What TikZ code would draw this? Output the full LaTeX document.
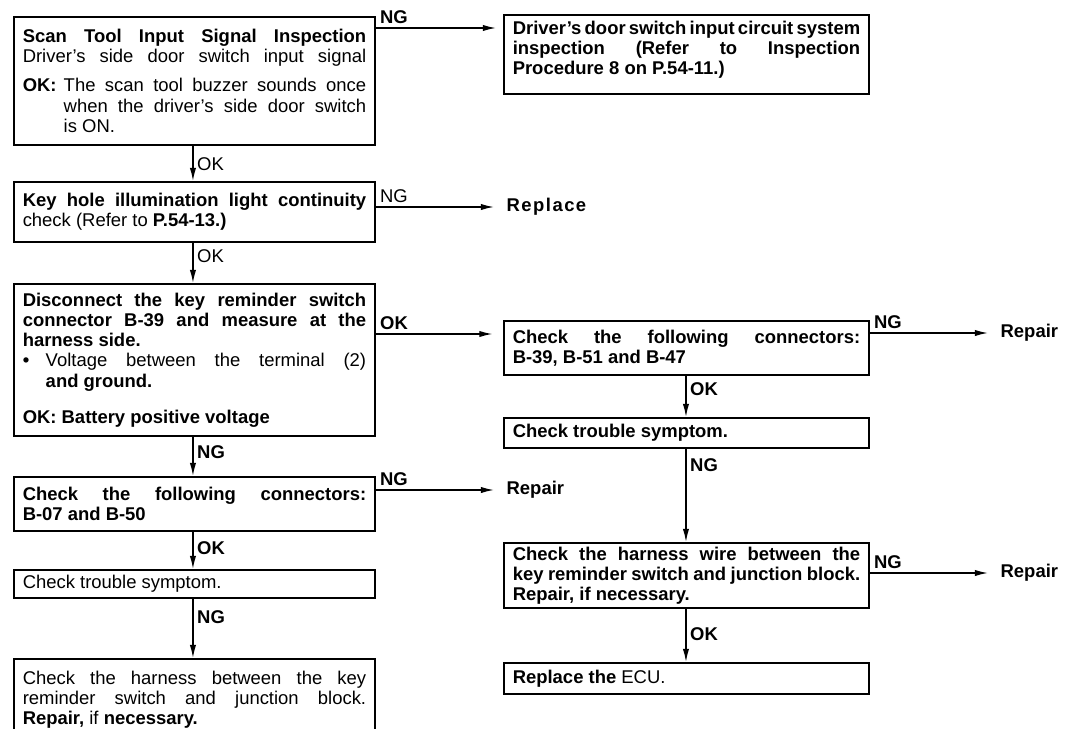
\documentclass[tikz,border=0pt]{standalone}
\usepackage{fontspec}
\setmainfont{Liberation Sans}
\newfontfamily\trackedfont[LetterSpace=8]{Liberation Sans}
\usetikzlibrary{arrows.meta,positioning}

\newcommand{\boxfont}{\fontsize{10.5}{11.5}\selectfont}
\newlength{\okind}
\setlength{\okind}{0.82cm}
\newlength{\bulind}
\setlength{\bulind}{0.46cm}
\newcommand{\jline}[1]{\noindent\makebox[\hsize][s]{#1}\par}
\newcommand{\pline}[1]{\noindent #1\par}
\newcommand{\okfirst}[2]{\noindent\makebox[\okind][l]{#1}\makebox[\dimexpr\hsize-\okind\relax][s]{#2}\par}
\newcommand{\okjline}[1]{\noindent\hspace*{\okind}\makebox[\dimexpr\hsize-\okind\relax][s]{#1}\par}
\newcommand{\okline}[1]{\noindent\hspace*{\okind}#1\par}
\newcommand{\tightsp}{\spaceskip=0.12em plus 1em minus 0.05em\relax}

\begin{document}
\begin{tikzpicture}[x=0.02cm,y=-0.02cm,
    stepbox/.style={draw,line width=1.1pt,anchor=north west,align=justify,
      inner xsep=5pt,inner ysep=2pt,font=\boxfont},
    leftbox/.style={stepbox,text width=6.87cm},
    rightbox/.style={stepbox,text width=6.95cm},
    flow/.style={line width=0.8pt,-{Latex[length=7.5pt,width=3.6pt]}},
    tag/.style={font=\boxfont\bfseries,inner sep=2pt},
    tagthin/.style={font=\boxfont,inner sep=2pt},
    result/.style={anchor=west,inner xsep=7pt,font=\boxfont\bfseries}]

  \useasboundingbox (0,0) rectangle (1067,728);

  % left column
  \node[leftbox,minimum height=2.56cm] (scan) at (13,16) {%
    \jline{\textbf{Scan Tool Input Signal Inspection}}%
    \jline{Driver's side door switch input signal}%
    \vspace{5pt}%
    \okfirst{\textbf{OK:}}{The scan tool buzzer sounds once}%
    \okjline{when the driver's side door switch}%
    \okline{is ON.}};
  \node[leftbox,minimum height=1.20cm] (keyhole) at (13,181) {%
    \jline{\textbf{Key hole illumination light continuity}}%
    \pline{check (Refer to \textbf{P.54-13.)}}};
  \node[leftbox,minimum height=3.04cm] (discon) at (13,283) {%
    \bfseries
    \jline{Disconnect the key reminder switch}%
    \jline{connector B-39 and measure at the}%
    \pline{harness side.}%
    \noindent\makebox[\bulind][l]{\textbullet}\makebox[\dimexpr\hsize-\bulind\relax][s]{\mdseries Voltage between the terminal (2)}\par
    \noindent\hspace*{\bulind}and ground.\par
    \vspace{9pt}%
    \pline{OK: Battery positive voltage}};
  \node[leftbox,minimum height=1.08cm] (connL) at (13,476) {%
    \bfseries
    \jline{Check the following connectors:}%
    \pline{B-07 and B-50}};
  \node[leftbox,minimum height=0.56cm] (symL) at (13,569) {%
    \pline{Check trouble symptom.}};
  \node[leftbox,minimum height=1.64cm] (wireL) at (13,658) {%
    \jline{Check the harness between the key}%
    \jline{reminder switch and junction block.}%
    \pline{\textbf{Repair,} if \textbf{necessary.}}};

  % right column
  \node[rightbox,inner ysep=3.5pt] (door) at (503,14) {%
    \bfseries
    \jline{\tightsp Driver's door switch input circuit system}%
    \jline{inspection (Refer to Inspection}%
    \pline{Procedure 8 on P.54-11.)\rule[-7.5pt]{0pt}{7.5pt}}};
  \node[rightbox,minimum height=1.08cm] (connR) at (503,320) {%
    \bfseries
    \jline{Check the following connectors:}%
    \pline{B-39, B-51 and B-47}};
  \node[rightbox,minimum height=0.60cm] (symR) at (503,417) {%
    \pline{\textbf{Check trouble symptom.}}};
  \node[rightbox,minimum height=1.30cm] (wireR) at (503,542) {%
    \bfseries
    \jline{Check the harness wire between the}%
    \jline{\tightsp key reminder switch and junction block.}%
    \pline{Repair, if necessary.}};
  \node[rightbox,minimum height=0.62cm] (ecu) at (503,662) {%
    \pline{\textbf{Replace the} ECU.}};

  % end results
  \node[result,font=\boxfont\trackedfont\bfseries] (replace) at (494,207) {Replace};
  \node[result] (repairA) at (988,333) {Repair};
  \node[result] (repairB) at (494,490) {Repair};
  \node[result] (repairC) at (988,573) {Repair};

  % horizontal connectors
  \coordinate (ngDoor) at ([yshift=-0.24cm]scan.north east);
  \draw[flow,shorten >=4pt] (ngDoor) -- (ngDoor -| door.west) node[tag,above right,pos=0]{NG};
  \draw[flow] (replace.west -| keyhole.east) -- (replace.west) node[tagthin,above right,pos=0]{NG};
  \coordinate (okConn) at ([yshift=-0.28cm]connR.north west);
  \draw[flow,shorten >=6pt] (okConn -| discon.east) -- (okConn) node[tag,above right,pos=0]{OK};
  \draw[flow] (repairA.west -| connR.east) -- (repairA.west) node[tag,above right,pos=0]{NG};
  \draw[flow] (repairB.west -| connL.east) -- (repairB.west) node[tag,above right,pos=0]{NG};
  \draw[flow] (repairC.west -| wireR.east) -- (repairC.west) node[tag,above right,pos=0]{NG};

  % vertical connectors
  \draw[flow] ([xshift=3.6cm]scan.south west) -- ([xshift=3.6cm]keyhole.north west) node[tagthin,right,pos=0.53]{OK};
  \draw[flow] ([xshift=3.6cm]keyhole.south west) -- ([xshift=3.6cm]discon.north west) node[tagthin,right,pos=0.33]{OK};
  \draw[flow] ([xshift=3.6cm]discon.south west) -- ([xshift=3.6cm]connL.north west) node[tag,right,pos=0.38]{NG};
  \draw[flow] ([xshift=3.6cm]connL.south west) -- ([xshift=3.6cm]symL.north west) node[tag,right,pos=0.45]{OK};
  \draw[flow] ([xshift=3.6cm]symL.south west) -- ([xshift=3.6cm]wireL.north west) node[tag,right,pos=0.3]{NG};
  \draw[flow] ([xshift=3.66cm]connR.south west) -- ([xshift=3.66cm]symR.north west) node[tag,right,pos=0.33]{OK};
  \draw[flow] ([xshift=3.66cm]symR.south west) -- ([xshift=3.66cm]wireR.north west) node[tag,right,pos=0.17]{NG};
  \draw[flow] ([xshift=3.66cm]wireR.south west) -- ([xshift=3.66cm]ecu.north west) node[tag,right,pos=0.47]{OK};
\end{tikzpicture}
\end{document}
